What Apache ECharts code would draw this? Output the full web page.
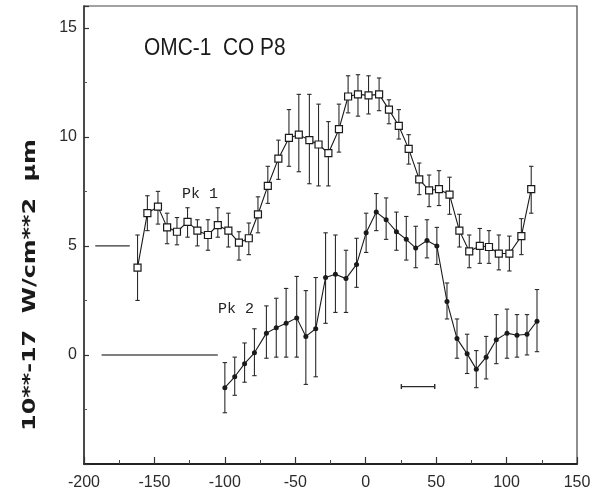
<!DOCTYPE html>
<html>
<head>
<meta charset="utf-8">
<script src="https://cdn.jsdelivr.net/npm/echarts/dist/echarts.min.js"></script>
<style>
  html, body { margin: 0; padding: 0; background: #fff; }
  #chart { width: 604px; height: 497px; }
</style>
</head>
<body>
<div id="chart"></div>
<script>
// Velocity positions (km/s) and fluxes (10**-17 W/cm**2 µm) for the two peaks
const pk1X  = [-162, -155, -147.5, -141, -134, -126.5, -119.5, -112, -105, -97.5,
               -90, -83, -76.5, -69.5, -62, -54.5, -47.5, -40, -33.5, -26.5,
               -19, -12.5, -5.5, 2, 9.5, 16.5, 23.5, 30.5, 38, 45,
               52, 59.5, 66.5, 73.5, 81, 87.5, 94.5, 102, 110.5, 117.5];
const pk1Y  = [4.0, 6.5, 6.8, 5.85, 5.65, 6.1, 5.7, 5.5, 5.95, 5.7,
               5.15, 5.35, 6.45, 7.75, 9.0, 9.95, 10.1, 9.85, 9.65, 9.25,
               10.35, 11.85, 11.95, 11.9, 11.95, 11.25, 10.5, 9.45, 8.05, 7.55,
               7.6, 7.35, 5.7, 4.75, 5.0, 4.95, 4.65, 4.65, 5.45, 7.6];
const pk1Lo = [2.5, 5.7, 6.0, 5.1, 5.05, 5.4, 5.0, 4.8, 5.4, 4.95,
               4.35, 4.6, 5.6, 6.95, 8.05, 8.65, 8.4, 7.85, 7.75, 7.75,
               9.3, 11.1, 10.95, 11.05, 11.2, 10.6, 9.9, 8.75, 7.35, 6.8,
               6.85, 6.45, 4.95, 4.0, 4.2, 4.2, 3.9, 3.85, 4.6, 6.5];
const pk1Hi = [5.5, 7.3, 7.5, 6.5, 6.3, 6.75, 6.2, 6.2, 6.75, 6.5,
               5.65, 6.05, 7.25, 8.65, 9.85, 11.25, 11.95, 11.95, 11.5, 10.7,
               11.5, 12.8, 12.85, 12.8, 12.7, 11.7, 11.25, 10.1, 8.8, 8.25,
               8.45, 8.15, 6.45, 5.5, 5.8, 5.7, 5.5, 5.45, 6.25, 8.65];

const pk2X  = [-100, -93, -86, -79, -70.5, -63.5, -56.5, -49, -42.5, -35.5,
               -28.5, -21.5, -14, -6.5, 0.3, 7.5, 14.5, 21.8, 28.8, 35.5,
               43.5, 50.5, 57.7, 64.8, 72, 78.5, 85.5, 92.7, 100.3, 107.4,
               114.5, 121.6];
const pk2Y  = [-1.5, -1.0, -0.4, 0.1, 1.0, 1.25, 1.45, 1.7, 0.85, 1.2,
               3.55, 3.7, 3.5, 4.15, 5.6, 6.55, 6.2, 5.65, 5.3, 4.9,
               5.25, 5.0, 2.45, 0.75, 0.05, -0.65, -0.1, 0.7, 1.0, 0.9,
               0.95, 1.55];
const pk2Lo = [-2.65, -1.85, -1.25, -0.95, -0.15, -0.1, -0.1, -0.1, -1.35, -1.0,
               1.45, 1.95, 1.95, 3.1, 4.7, 5.7, 5.3, 4.8, 4.35, 4.0,
               4.45, 4.15, 1.65, -0.15, -0.85, -1.5, -1.1, -0.4, -0.15, -0.1,
               0.0, 0.15];
const pk2Hi = [-0.35, -0.1, 0.55, 1.2, 2.25, 2.6, 3.05, 3.6, 2.95, 3.55,
               5.6, 5.5, 4.8, 5.35, 6.5, 7.4, 7.2, 6.55, 6.35, 5.9,
               6.2, 5.85, 3.3, 1.65, 0.95, 0.2, 0.85, 1.85, 2.1, 1.85,
               1.85, 3.0];

// Continuum levels drawn to the left of each spectrum
const pk1Base = [[-192, 5], [-167.5, 5]];
const pk2Base = [[-187.5, 0], [-105, 0]];

// Instrumental resolution bar: [from, to, level]
const resolution = [[25.3, 49, -1.45]];

const xTicks = [-200, 150, 50];   // min, max, interval
const yTicks = [-5, 16, 5];

const INK = '#1a1a1a';

function zip(xs, ys) { return xs.map((x, i) => [x, ys[i]]); }
function zip3(xs, a, b) { return xs.map((x, i) => [x, a[i], b[i]]); }

function errorBars(params, api) {
  const x = api.value(0);
  const lo = api.coord([x, api.value(1)]);
  const hi = api.coord([x, api.value(2)]);
  const w = 2.2;
  const style = { stroke: '#2a2a2a', lineWidth: 1.1 };
  return {
    type: 'group',
    children: [
      { type: 'line', shape: { x1: lo[0], y1: lo[1], x2: hi[0], y2: hi[1] }, style },
      { type: 'line', shape: { x1: lo[0] - w, y1: lo[1], x2: lo[0] + w, y2: lo[1] }, style },
      { type: 'line', shape: { x1: hi[0] - w, y1: hi[1], x2: hi[0] + w, y2: hi[1] }, style }
    ]
  };
}

function resolutionBar(params, api) {
  const a = api.coord([api.value(0), api.value(2)]);
  const b = api.coord([api.value(1), api.value(2)]);
  const h = 2.5;
  const style = { stroke: '#2a2a2a', lineWidth: 1.4 };
  return {
    type: 'group',
    children: [
      { type: 'line', shape: { x1: a[0], y1: a[1], x2: b[0], y2: b[1] }, style },
      { type: 'line', shape: { x1: a[0], y1: a[1] - h, x2: a[0], y2: a[1] + h }, style },
      { type: 'line', shape: { x1: b[0], y1: b[1] - h, x2: b[0], y2: b[1] + h }, style }
    ]
  };
}

const chart = echarts.init(document.getElementById('chart'), null, { renderer: 'canvas' });

const tickLabel = { color: '#2b2b2b', fontFamily: 'Liberation Sans', fontSize: 16 };

chart.setOption({
  animation: false,
  backgroundColor: '#fff',
  grid: { left: 84, right: 27, top: 6, bottom: 33, show: true, borderColor: '#444', borderWidth: 1.2 },
  xAxis: {
    type: 'value', min: xTicks[0], max: xTicks[1], interval: xTicks[2],
    axisLine: { show: true, onZero: false, lineStyle: { color: '#222', width: 2 } },
    axisTick: { show: true, inside: true, length: 7, lineStyle: { color: '#333', width: 1.2 } },
    minorTick: { show: true, splitNumber: 2, length: 4, lineStyle: { color: '#444' } },
    splitLine: { show: false },
    axisLabel: Object.assign({ margin: 11 }, tickLabel)
  },
  yAxis: {
    type: 'value', min: yTicks[0], max: yTicks[1], interval: yTicks[2],
    axisLine: { show: true, onZero: false, lineStyle: { color: '#333', width: 1.5 } },
    axisTick: { show: true, inside: true, length: 5, lineStyle: { color: '#333', width: 1.2 } },
    minorTick: { show: true, splitNumber: 2, length: 3, lineStyle: { color: '#555' } },
    splitLine: { show: false },
    axisLabel: Object.assign({
      margin: 7,
      formatter: v => (v < 0 || v > 15) ? '' : String(v)
    }, tickLabel)
  },
  series: [
    {
      type: 'custom', renderItem: errorBars, data: zip3(pk1X, pk1Lo, pk1Hi),
      encode: { x: 0, y: [1, 2] }, z: 2, silent: true
    },
    {
      type: 'custom', renderItem: errorBars, data: zip3(pk2X, pk2Lo, pk2Hi),
      encode: { x: 0, y: [1, 2] }, z: 2, silent: true
    },
    {
      name: 'Pk 1', type: 'line', data: zip(pk1X, pk1Y), z: 3,
      symbol: 'rect', symbolSize: 7, showAllSymbol: true,
      lineStyle: { color: INK, width: 1.1 },
      itemStyle: { color: '#fff', borderColor: INK, borderWidth: 1.2 }
    },
    {
      name: 'Pk 2', type: 'line', data: zip(pk2X, pk2Y), z: 3,
      symbol: 'circle', symbolSize: 5, showAllSymbol: true,
      lineStyle: { color: INK, width: 1.1 },
      itemStyle: { color: INK, borderColor: INK, borderWidth: 0 }
    },
    {
      type: 'line', data: pk1Base, symbol: 'none',
      lineStyle: { color: '#333', width: 1.4 }
    },
    {
      type: 'line', data: pk2Base, symbol: 'none',
      lineStyle: { color: '#555', width: 1.4 }
    },
    {
      type: 'custom', renderItem: resolutionBar, data: resolution,
      encode: { x: [0, 1], y: 2 }, silent: true
    }
  ],
  graphic: [
    {
      type: 'text', left: 144, top: 36, scaleX: 0.87, z: 10,
      style: { text: 'OMC-1  CO P8', fill: '#1a1a1a', font: '24px "Liberation Sans"' }
    },
    {
      type: 'text', x: 182, y: 187, z: 10,
      style: { text: 'Pk 1', fill: '#222', font: '15px "Liberation Mono"' }
    },
    {
      type: 'text', x: 218, y: 302, z: 10,
      style: { text: 'Pk 2', fill: '#222', font: '15px "Liberation Mono"' }
    },
    {
      type: 'text', x: 31, y: 285, rotation: Math.PI / 2, scaleX: 1.4, z: 10,
      style: {
        text: '10**-17  W/cm**2  µm', fill: '#1a1a1a',
        font: 'bold 17px "DejaVu Sans"', align: 'center', verticalAlign: 'middle'
      }
    }
  ]
});
</script>
</body>
</html>
